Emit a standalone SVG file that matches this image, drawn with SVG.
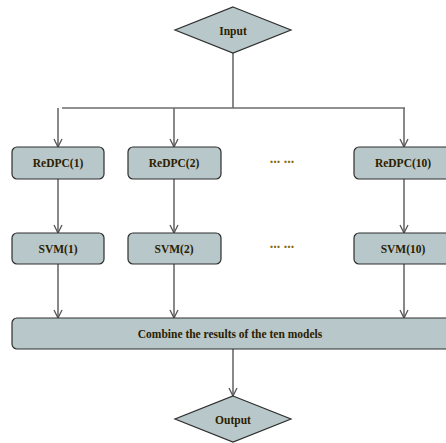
<svg xmlns="http://www.w3.org/2000/svg" width="446" height="443" viewBox="0 0 446 443">
<defs>
<marker id="arr" viewBox="0 0 10 10" refX="9" refY="5" markerWidth="10" markerHeight="10" markerUnits="userSpaceOnUse" orient="auto">
<path d="M1,1 L9,5 L1,9" fill="none" stroke="#555" stroke-width="1.3"/>
</marker>
<style>
.box{fill:#b8c7c9;stroke:#2e2e2e;stroke-width:1.2}
.t{font-family:"Liberation Serif","Times New Roman",serif;font-weight:bold;font-size:11.5px;fill:#2a2000;text-anchor:middle;dominant-baseline:central}
.c{fill:none;stroke:#6b6b6b;stroke-width:1.6}
.dots{font-family:"Liberation Serif",serif;font-weight:bold;font-size:14px;fill:#8a6a10;text-anchor:middle}
</style>
</defs>
<rect width="446" height="443" fill="#ffffff"/>
<g id="connectors">
<line class="c" x1="233" y1="53" x2="233" y2="108"/>
<line class="c" x1="62" y1="108" x2="405" y2="108"/>
<line class="c" x1="58" y1="108" x2="58" y2="147" marker-end="url(#arr)"/>
<line class="c" x1="174" y1="108" x2="174" y2="147" marker-end="url(#arr)"/>
<line class="c" x1="404" y1="108" x2="404" y2="147" marker-end="url(#arr)"/>
<line class="c" x1="58" y1="179" x2="58" y2="233" marker-end="url(#arr)"/>
<line class="c" x1="174" y1="179" x2="174" y2="233" marker-end="url(#arr)"/>
<line class="c" x1="404" y1="179" x2="404" y2="233" marker-end="url(#arr)"/>
<line class="c" x1="58" y1="264" x2="58" y2="318" marker-end="url(#arr)"/>
<line class="c" x1="174" y1="264" x2="174" y2="318" marker-end="url(#arr)"/>
<line class="c" x1="404" y1="264" x2="404" y2="318" marker-end="url(#arr)"/>
<line class="c" x1="233" y1="349" x2="233" y2="396" marker-end="url(#arr)"/>
</g>
<g id="input">
<polygon class="box" points="233,7 291,30 233,53 175,30"/>
<text class="t" x="233" y="31">Input</text>
</g>
<g id="redpc1">
<rect class="box" x="12" y="147" width="92" height="32" rx="5"/>
<text class="t" x="58" y="163">ReDPC(1)</text>
</g>
<g id="redpc2">
<rect class="box" x="128" y="147" width="93" height="32" rx="5"/>
<text class="t" x="174" y="163">ReDPC(2)</text>
</g>
<g id="dots1"><text class="dots" x="282" y="163">... ...</text></g>
<g id="redpc10">
<rect class="box" x="354" y="147" width="100" height="32" rx="5"/>
<text class="t" x="403" y="163">ReDPC(10)</text>
</g>
<g id="svm1">
<rect class="box" x="12" y="233" width="92" height="31" rx="5"/>
<text class="t" x="58" y="248.5">SVM(1)</text>
</g>
<g id="svm2">
<rect class="box" x="128" y="233" width="93" height="31" rx="5"/>
<text class="t" x="174" y="248.5">SVM(2)</text>
</g>
<g id="dots2"><text class="dots" x="282" y="248">... ...</text></g>
<g id="svm10">
<rect class="box" x="354" y="233" width="100" height="31" rx="5"/>
<text class="t" x="403" y="248.5">SVM(10)</text>
</g>
<g id="combine">
<rect class="box" x="12" y="318" width="450" height="31" rx="5"/>
<text class="t" x="230" y="334">Combine the results of the ten models</text>
</g>
<g id="output">
<polygon class="box" points="233,396 291,419 233,442 175,419"/>
<text class="t" x="233" y="420">Output</text>
</g>
</svg>
